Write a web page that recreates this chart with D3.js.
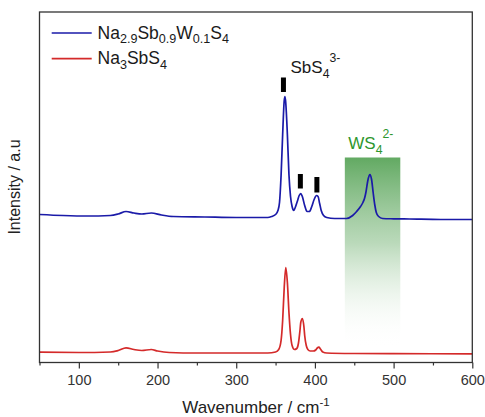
<!DOCTYPE html>
<html>
<head>
<meta charset="utf-8">
<script src="https://cdn.jsdelivr.net/npm/d3@7"></script>
<style>
  html, body { margin: 0; padding: 0; background: #fff; }
  svg { display: block; font-family: "Liberation Sans", Arial, sans-serif; }
</style>
</head>
<body>
<svg id="chart" width="485" height="417"></svg>
<script>
// ---- data ----
const wnW = [50, 80, 110, 140, 150, 160, 170, 180, 192, 205, 220, 260, 300, 340, 345, 350, 353, 355, 357, 359, 361, 362, 363, 365, 367, 369, 371, 373, 375, 378, 380, 382, 384, 387, 390, 393, 396, 399, 402, 404, 406, 408, 411, 415, 425, 440, 448, 453, 458, 461, 463, 465, 467, 469, 470, 472, 474, 476, 478, 481, 486, 500, 520, 560, 600];
const intW = [148, 147, 146.5, 147, 148.5, 151, 149.5, 148.5, 149.5, 147.5, 146, 145.5, 145, 145, 146, 148, 152, 160, 187, 228, 262, 266, 259, 228, 188, 166, 156, 152, 155, 162, 167, 169, 166, 157, 151, 151, 156, 163, 167, 166, 159, 152, 147, 145, 144, 144, 147, 151, 156, 160, 164, 171, 181, 187, 188, 183, 170, 158, 150, 146, 144, 143.7, 143.5, 143, 143];

const wnS = [50, 100, 140, 150, 160, 170, 180, 192, 200, 215, 250, 300, 340, 350, 354, 357, 359, 361, 363, 365, 367, 369, 371, 374, 377, 379, 381, 382, 384, 386, 387, 389, 391, 394, 398, 401, 403, 405, 407, 410, 415, 450, 500, 600];
const intS = [10.3, 10, 10.5, 12, 14.7, 13, 12, 13, 11.5, 10, 9.5, 9.5, 9.5, 10.5, 13, 22, 42, 75, 95, 80, 50, 28, 17, 13, 14, 19, 32, 40, 44, 36, 27, 17, 13, 11.5, 11.5, 12.5, 14.5, 15.3, 13.5, 10.5, 9.5, 9, 8.8, 8.7];

const markerWn = [360, 381.5, 402.5];
const markerTop = [285, 188.5, 185.5];
const markerBottom = [270.5, 174, 170];

const bandRange = [438, 508.5];
const bandTop = 205;
const bandBottom = 15;

const xTicks = [100, 200, 300, 400, 500, 600];
const xMinor = [50, 150, 250, 350, 450, 550];

const legendNames = [
  [["Na", 0], ["2.9", 1], ["Sb", 0], ["0.9", 1], ["W", 0], ["0.1", 1], ["S", 0], ["4", 1]],
  [["Na", 0], ["3", 1], ["SbS", 0], ["4", 1]]
];
const seriesColors = ["#1a1aa8", "#d42a2a"];

// ---- layout ----
const svg = d3.select("#chart");
const L = 39.5, R = 472.3, T = 12, B = 362.5;
const x = d3.scaleLinear().domain([50, 600]).range([L, R]);
const y = d3.scaleLinear().domain([0, 350.5]).range([B, T]);

// gradient for band
const defs = svg.append("defs");
const grad = defs.append("linearGradient").attr("id", "band")
  .attr("x1", 0).attr("y1", 0).attr("x2", 0).attr("y2", 1);
grad.append("stop").attr("offset", "0%").attr("stop-color", "#5aa55a").attr("stop-opacity", 0.95);
grad.append("stop").attr("offset", "45%").attr("stop-color", "#8cc08c").attr("stop-opacity", 0.6);
grad.append("stop").attr("offset", "100%").attr("stop-color", "#ffffff").attr("stop-opacity", 0);

svg.append("rect")
  .attr("x", x(bandRange[0])).attr("y", y(bandTop))
  .attr("width", x(bandRange[1]) - x(bandRange[0]))
  .attr("height", y(bandBottom) - y(bandTop))
  .attr("fill", "url(#band)");

// lines
const line = d3.line().curve(d3.curveMonotoneX);
const seriesData = [
  wnW.map((w, i) => [x(w), y(intW[i])]),
  wnS.map((w, i) => [x(w), y(intS[i])])
];
seriesData.forEach((d, i) => {
  svg.append("path").attr("d", line(d))
    .attr("fill", "none").attr("stroke", seriesColors[i])
    .attr("stroke-width", 1.7).attr("stroke-linejoin", "round");
});

// markers
markerWn.forEach((w, i) => {
  svg.append("rect")
    .attr("x", x(w) - 2.5).attr("y", y(markerTop[i]))
    .attr("width", 5).attr("height", y(markerBottom[i]) - y(markerTop[i]))
    .attr("fill", "#000");
});

// chemical-formula text with sub/superscripts
function chem(parent, xx, yy, parts, size, color, subDy, supDy, ratio) {
  const t = parent.append("text").attr("x", xx).attr("y", yy)
    .attr("font-size", size).attr("fill", color);
  let cur = 0;
  parts.forEach(([s, kind]) => {
    const ts = t.append("tspan").text(s);
    const target = kind === 1 ? subDy : kind === 2 ? supDy : 0;
    if (kind !== 0) ts.attr("font-size", size * ratio);
    ts.attr("dy", target - cur);
    cur = target;
  });
  return t;
}
chem(svg, 290.5, 73.3, [["SbS", 0], ["4", 1], ["3-", 2]], 17, "#1a1a1a", 5, -11, 0.72);
chem(svg, 348.3, 149.3, [["WS", 0], ["4", 1], ["2-", 2]], 17, "#2e962e", 5, -11, 0.72);

// frame
svg.append("rect").attr("x", L).attr("y", T).attr("width", R - L).attr("height", B - T)
  .attr("fill", "none").attr("stroke", "#333").attr("stroke-width", 1.3);

// x axis
const ax = svg.append("g").attr("transform", `translate(0,${B})`)
  .call(d3.axisBottom(x).tickValues(xTicks).tickSize(6).tickPadding(6).tickSizeOuter(0));
ax.select(".domain").remove();
ax.selectAll("line").attr("stroke", "#333").attr("stroke-width", 1.2);
ax.selectAll("text").attr("font-size", 14.5).attr("fill", "#333")
  .attr("font-family", "'Liberation Sans', Arial, sans-serif");
const axm = svg.append("g").attr("transform", `translate(0,${B})`)
  .call(d3.axisBottom(x).tickValues(xMinor).tickSize(3).tickFormat(""));
axm.select(".domain").remove();
axm.selectAll("line").attr("stroke", "#333").attr("stroke-width", 1.2);

// axis titles
const xt = svg.append("text").attr("x", 256).attr("y", 413)
  .attr("text-anchor", "middle").attr("font-size", 17).attr("fill", "#222");
xt.append("tspan").text("Wavenumber / cm");
xt.append("tspan").text("-1").attr("font-size", 11.5).attr("dy", -7);

svg.append("text").attr("transform", "translate(20,187) rotate(-90)")
  .attr("text-anchor", "middle").attr("font-size", 16).attr("fill", "#222")
  .text("Intensity / a.u");

// legend
const legY = [33, 58.7];
legendNames.forEach((parts, i) => {
  svg.append("line").attr("x1", 51.7).attr("x2", 91.7)
    .attr("y1", legY[i]).attr("y2", legY[i])
    .attr("stroke", seriesColors[i]).attr("stroke-width", 1.7);
  chem(svg, 97.5, legY[i] + 5.5, parts, 17.5, "#1a1a1a", 4.5, -11, 0.72);
});
</script>
</body>
</html>
